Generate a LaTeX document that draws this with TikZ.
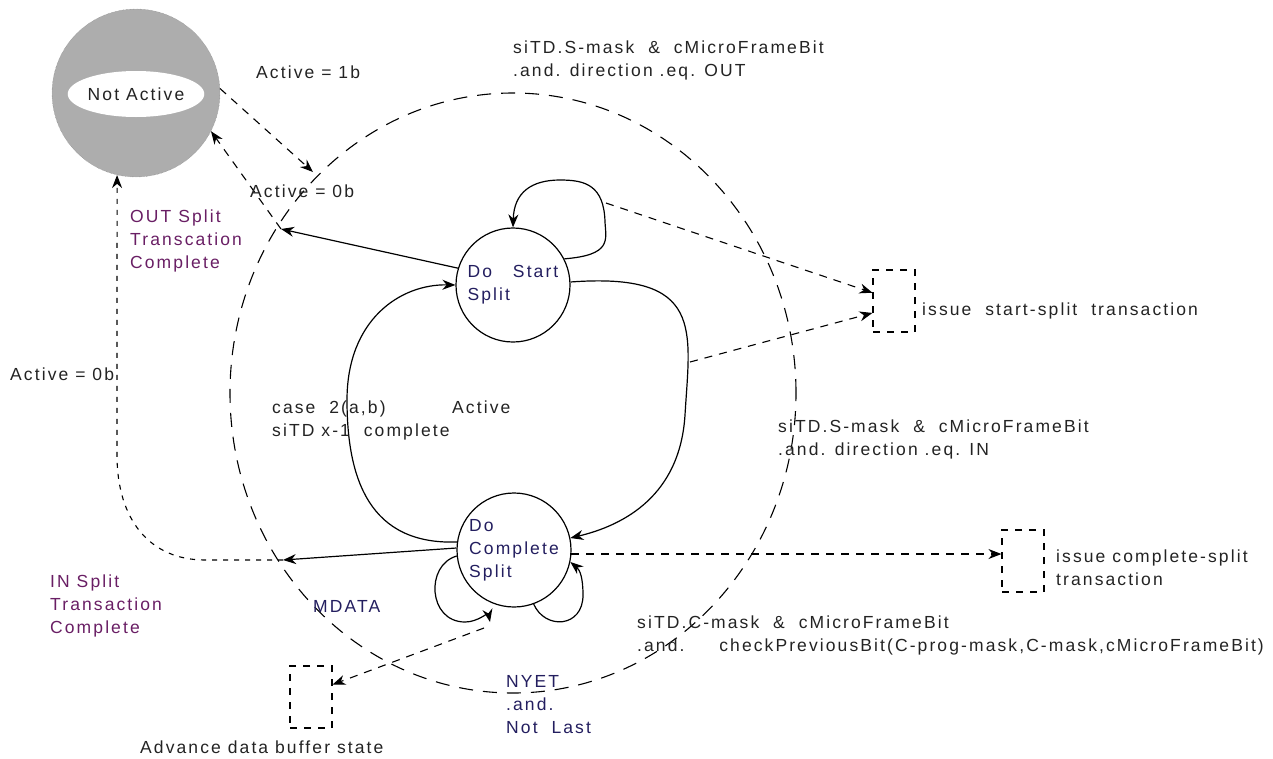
\documentclass[tikz,border=0pt]{standalone}
\usepackage{fontspec}
\setmainfont{Liberation Sans}[LetterSpace=12]
\usetikzlibrary{arrows.meta,positioning,shapes.geometric}

\definecolor{splitpurple}{RGB}{105,30,100}
\definecolor{statenavy}{RGB}{35,30,95}
\definecolor{lbltext}{RGB}{35,35,35}

\begin{document}
\begin{tikzpicture}[
  x=1pt,y=-1pt,
  >={Stealth[length=13pt,width=10pt]},
  state/.style={draw,circle,line width=1.2pt,minimum size=114pt,inner sep=0pt,
    align=left,text=statenavy,font=\fontsize{17.5}{23}\selectfont},
  actbox/.style={draw,dash pattern=on 7pt off 7pt,line width=1.1pt,
    minimum width=42pt,minimum height=62pt,inner sep=0pt},
  lbl/.style={anchor=base west,inner sep=0pt,align=left,text=lbltext,
    font=\fontsize{17.5}{23}\selectfont},
  trans/.style={line width=1.2pt,->},
  act/.style={line width=1.1pt,dash pattern=on 8pt off 7pt,->},
  dots/.style={line width=1.1pt,dash pattern=on 5pt off 6pt,->}
]
  \useasboundingbox (0,0) rectangle (1273,758);

  % states
  \node[circle,fill=black!32,draw=black!50,densely dotted,minimum size=168pt] (notact) at (136,93) {};
  \node[ellipse,fill=white,minimum width=128pt,minimum height=46pt,inner sep=0pt,
    text=lbltext,font=\fontsize{17.5}{23}\selectfont] (notlbl) at (136,94) {Not Active};
  \node[ellipse,draw,dash pattern=on 14pt off 10pt,line width=1.1pt,
    minimum width=566pt,minimum height=600pt,inner sep=0pt] (active) at (513,393) {};
  \node[state] (start) at (513,285) {Do\ \ \ Start\\Split};
  \node[state] (complete) at (514,550) {Do\\Complete\\Split};

  % action boxes
  \node[actbox] (ssbox) at (894,301) {};
  \node[actbox] (csbox) at (1023,561) {};
  \node[actbox] (adbox) at (311,697) {};

  \coordinate (onA) at (313,172);
  \coordinate (offA) at (281,229);
  \coordinate (offB) at (283,560);
  \coordinate (sl) at (606,203);
  \coordinate (sc) at (690,362);
  \coordinate (cl) at (490,622);
  \coordinate (md) at (484,628);

  % transitions
  \draw[act] (notact.3) -- (onA);
  \draw[act] (offA) -- (notact.-27);
  \draw[trans] (start.163) -- (offA);
  \draw[trans] (complete.178) -- (offB);
  \draw[dots] (offB) -- (205,560) .. controls (150,560) and (117,520) .. (117,455) -- (notact.-103);
  \draw[trans] (start.27) .. controls (612,255) and (606,240) .. (605,222)
    .. controls (604,185) and (585,180) .. (560,180) .. controls (532,180) and (514,192) .. (start.90);
  \draw[trans] (start.3) .. controls (705,272) and (690,330) .. (685,415)
    .. controls (680,495) and (625,525) .. (complete.12);
  \draw[trans] (complete.172) .. controls (370,545) and (347,480) .. (347,400)
    .. controls (347,320) and (400,284) .. (start.180);
  \draw[trans] (complete.186) .. controls (425,565) and (428,622) .. (465,622)
    .. controls (478,622) and (488,612) .. (cl);
  \draw[trans] (complete.-70) .. controls (545,630) and (583,628) .. (583,595)
    .. controls (583,578) and (580,570) .. (complete.-12);

  % actions
  \draw[act] (complete.-4) -- (complete.-4 -| csbox.west);
  \draw[act] (sl) -- (ssbox.159);
  \draw[act] (sc) -- (ssbox.-151);
  \draw[act] (md) -- (adbox.30);

  % labels (base = last line)
  \node[lbl] at (256,78) {Active = 1b};
  \node[lbl] at (513,76) {siTD.S-mask\ \ \&\ \ cMicroFrameBit\\.and. direction .eq. OUT};
  \node[lbl] at (250,197) {Active = 0b};
  \node[lbl,text=splitpurple] at (130,268) {OUT Split\\Transcation\\Complete};
  \node[lbl] at (10,380) {Active = 0b};
  \node[lbl] at (272,436) {case\ \ 2(a,b)\\siTD x-1\ \ complete};
  \node[lbl] at (452,413) {Active};
  \node[lbl] at (778,455) {siTD.S-mask\ \ \&\ \ cMicroFrameBit\\.and. direction .eq. IN};
  \node[lbl] at (922,315) {issue\ \ start-split\ \ transaction};
  \node[lbl] at (1056,585) {issue complete-split\\transaction};
  \node[lbl,text=splitpurple] at (50,633) {IN Split\\Transaction\\Complete};
  \node[lbl,text=statenavy] at (313,612) {MDATA};
  \node[lbl] at (637,651) {siTD.C-mask\ \ \&\ \ cMicroFrameBit\\.and.\ \ \ \ \ checkPreviousBit(C-prog-mask,C-mask,cMicroFrameBit)};
  \node[lbl,text=statenavy] at (506,733) {NYET\\.and.\\Not\ \ Last};
  \node[lbl] at (140,753) {Advance data buffer state};
\end{tikzpicture}
\end{document}
